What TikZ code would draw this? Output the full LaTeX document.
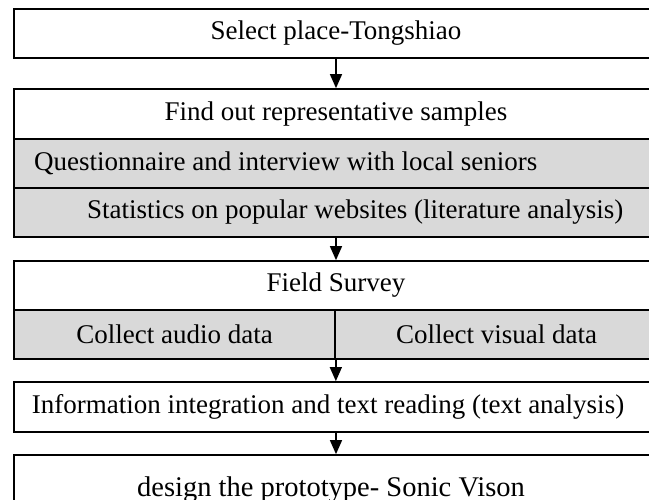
\documentclass[tikz,border=0pt]{standalone}
\usepackage{fontspec}
\setmainfont{Liberation Serif}
\usetikzlibrary{arrows.meta}
\definecolor{rowgray}{HTML}{D9D9D9}
\tikzset{
  box/.style={draw=black, line width=1.7pt, fill=white, minimum width=644pt, inner sep=0pt, font=\fontsize{27}{31}\selectfont},
  grayrow/.style={box, fill=rowgray},
  halfrow/.style={draw=black, line width=1.7pt, fill=rowgray, inner sep=0pt, font=\fontsize{27}{31}\selectfont},
  txt/.style={inner sep=0pt, font=\fontsize{27}{31}\selectfont},
  arr/.style={draw=black, line width=1.4pt, -{Triangle[length=14pt,width=12pt]}}
}
\begin{document}
\begin{tikzpicture}[x=1pt,y=-1pt]
\useasboundingbox (0,0) rectangle (649,500);
\clip (0,0) rectangle (649,500);
% box 1
\node[box, minimum height=49pt] (b1) at (336,33.5) {Select place-Tongshiao};
% box 2
\node[box, minimum height=50pt] (b2) at (336,114) {Find out representative samples};
\node[grayrow, minimum height=49pt] (b2a) at (336,163.5) {};
\node[grayrow, minimum height=49pt] (b2b) at (336,212.5) {};
\node[txt, anchor=west] (t2a) at (34,163.5) {Questionnaire and interview with local seniors};
\node[txt, anchor=west] (t2b) at (87,212.5) {Statistics on popular websites (literature analysis)};
% box 3
\node[box, minimum height=49pt] (b3) at (336,285.5) {Field Survey};
\node[halfrow, minimum width=321pt, minimum height=49pt] (b3a) at (174.5,334.5) {Collect audio data};
\node[halfrow, minimum width=323pt, minimum height=49pt] (b3b) at (496.5,334.5) {Collect visual data};
% box 4
\node[box, minimum height=50pt] (b4) at (336,407) {};
\node[txt] (t4) at (328,407) {Information integration and text reading (text analysis)};
% box 5
\node[box, minimum height=70pt] (b5) at (336,490) {};
\node[txt, anchor=base, font=\fontsize{28.5}{32}\selectfont] (t5) at (331,496) {design the prototype- Sonic Vison};
% arrows
\draw[arr] (b1.south) -- (b2.north);
\draw[arr] (b2b.south) -- (b3.north);
\draw[arr] (b3a.south east) -- (b3a.south east |- b4.north);
\draw[arr] (b4.south) -- (b5.north);
\end{tikzpicture}
\end{document}
